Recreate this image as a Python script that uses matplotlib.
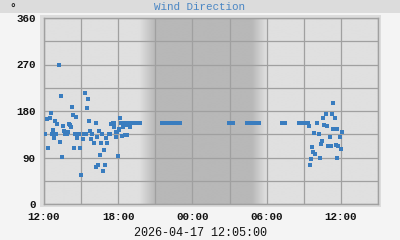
import matplotlib
matplotlib.use("Agg")
import numpy as np
import pandas as pd
import matplotlib.pyplot as plt
import matplotlib.dates as mdates
from matplotlib.patches import Rectangle

# wind direction readings, hours after 2026-04-17 12:00
scatter_hours = [0.11, 0.24, 0.32, 0.46, 0.60, 0.65, 0.76, 0.81, 0.92, 0.95,
                 1.08, 1.19, 1.29, 1.37, 1.45, 1.54, 1.65, 1.73, 1.89, 1.97,
                 2.05, 2.13, 2.21, 2.29, 2.37, 2.45, 2.54, 2.60, 2.70, 2.80,
                 2.91, 2.99, 3.15, 3.26, 3.34, 3.39, 3.47, 3.58, 3.64, 3.75,
                 3.83, 3.88, 4.04, 4.18, 4.23, 4.31, 4.39, 4.47, 4.52, 4.60,
                 4.69, 4.77, 4.85, 4.93, 5.00, 5.09, 5.23, 5.36, 5.39, 5.55,
                 5.57, 5.63, 5.69, 5.82, 5.85, 5.93, 5.98, 6.03, 6.06, 6.12,
                 6.17, 6.25, 6.28, 6.33, 6.38, 6.52, 6.54, 6.66, 6.70, 6.82,
                 6.92]
scatter_deg = [135, 164, 108, 166, 176, 135, 143, 127, 160, 135,
               155, 269, 120, 209, 91, 151, 141, 135, 135, 140,
               155, 152, 149, 188, 172, 108, 135, 168, 128, 135,
               108, 56, 125, 136, 215, 135, 186, 203, 160, 142,
               125, 135, 118, 71, 156, 130, 76, 142, 95, 118,
               135, 63, 104, 76, 127, 118, 135, 135, 155, 156,
               156, 149, 156, 129, 139, 139, 92, 143, 145, 166,
               166, 156, 156, 132, 149, 133, 156, 153, 133, 156,
               149]

# steady readings overnight
steady_hours = [7.06, 7.14, 7.23, 7.31, 7.39, 7.48, 7.56, 7.64, 7.73, 7.79,
                9.56, 9.64, 9.73, 9.81, 9.89, 9.98, 10.06, 10.14, 10.23,
                10.31, 10.39, 10.48, 10.56, 10.64, 10.73, 10.81, 10.89, 11.0,
                14.94, 15.02, 15.10, 15.19, 15.27,
                16.40, 16.48, 16.57, 16.65, 16.73, 16.83,
                17.00, 17.08, 17.17, 17.25, 17.33, 17.40,
                19.26, 19.35, 19.43, 19.52,
                20.60, 20.68, 20.77, 20.85, 20.93, 21.02, 21.10, 21.18,
                21.27, 21.35]
steady_deg = 156

# next morning
morning_hours = [21.40, 21.50, 21.57, 21.70, 21.73, 21.80, 21.90, 22.05, 22.10,
                 22.20, 22.30, 22.40, 22.50, 22.57, 22.67, 22.80, 22.86, 22.94,
                 23.08, 23.14, 23.22, 23.26, 23.35, 23.40, 23.50, 23.60, 23.67,
                 23.70, 23.80, 23.94, 24.00, 24.07]
morning_deg = [151, 75, 87, 110, 101, 137, 96, 156, 156,
               135, 90, 116, 121, 166, 153, 174, 151, 112,
               112, 129, 112, 174, 195, 145, 166, 114, 90,
               145, 112, 129, 106, 139]

start = pd.Timestamp("2026-04-17 12:00")
end = pd.Timestamp("2026-04-18 15:00")
stamp = "2026-04-17 12:05:00"
# dusk / dawn ramps (hours after start)
dusk = (7.7, 9.0)
dawn = (16.83, 18.0)

hours = scatter_hours + steady_hours + morning_hours
deg = scatter_deg + [steady_deg] * len(steady_hours) + morning_deg
times = [start + pd.Timedelta(hours=h) for h in hours]

mono = "Liberation Mono"
W, H = 400, 240
fig = plt.figure(figsize=(4, 2.4), dpi=100)
fig.patch.set_facecolor("#f4f4f4")

# title bar and plot frame
fig.patches.append(Rectangle((0, 1 - 13 / H), 1, 13 / H, transform=fig.transFigure,
                             facecolor="#dcdcdc", edgecolor="none", zorder=-2))
fig.patches.append(Rectangle((40 / W, 1 - 207 / H), 341 / W, 192 / H, transform=fig.transFigure,
                             facecolor="#dcdcdc", edgecolor="none", zorder=-2))
fig.text(200 / W, 1 - 6.5 / H, "Wind Direction", ha="center", va="center",
         color="#4a86c4", fontsize=7.8, family=mono)
fig.text(13 / W, 1 - 9 / H, "°", ha="center", va="center", color="#222222",
         fontsize=8, family=mono, fontweight="bold")

ax = fig.add_axes([44 / W, 36 / H, 334 / W, 186 / H])
ax.set_facecolor("#e0e0e0")

# night shading
x0, x1 = mdates.date2num(start), mdates.date2num(end)
hh = np.linspace(0, 27, 1000)
shade = np.interp(hh, [0, dusk[0], dusk[1], dawn[0], dawn[1], 27],
                  [224, 224, 184, 184, 224, 224]) / 255.0
img = np.dstack([shade, shade, shade])
ax.imshow(img, extent=[x0, x1, 0, 360], aspect="auto", zorder=0, interpolation="bilinear")

ax.plot(times, deg, "s", color="#3a7dbf", markersize=2.4, markeredgewidth=0, zorder=3)

ax.set_xlim(start, end)
ax.set_ylim(0, 360)
ax.xaxis.set_major_locator(mdates.HourLocator(byhour=[0, 6, 12, 18]))
ax.xaxis.set_minor_locator(mdates.HourLocator(byhour=range(0, 24, 3)))
ax.xaxis.set_major_formatter(mdates.DateFormatter("%H:%M"))
ax.set_yticks([0, 90, 180, 270, 360])
ax.set_yticks([45, 135, 225, 315], minor=True)
ax.set_axisbelow(False)
ax.grid(True, which="both", color="#a0a0a0", linewidth=0.9, zorder=1)
for gl in ax.get_xgridlines() + ax.get_ygridlines():
    gl.set_zorder(1)
ax.tick_params(which="both", length=0)
ax.tick_params(axis="x", pad=6, labelsize=7.8)
ax.tick_params(axis="y", pad=6, labelsize=7.8)
for lab in ax.get_xticklabels() + ax.get_yticklabels():
    lab.set_family(mono)
    lab.set_fontweight("bold")
    lab.set_color("#111111")
for s in ax.spines.values():
    s.set_color("#a0a0a0")
    s.set_linewidth(1)

fig.text(200 / W, 1 - 233 / H, stamp, ha="center", va="center", color="#111111",
         fontsize=8.5, family=mono)

plt.savefig("out.png", dpi=100)
